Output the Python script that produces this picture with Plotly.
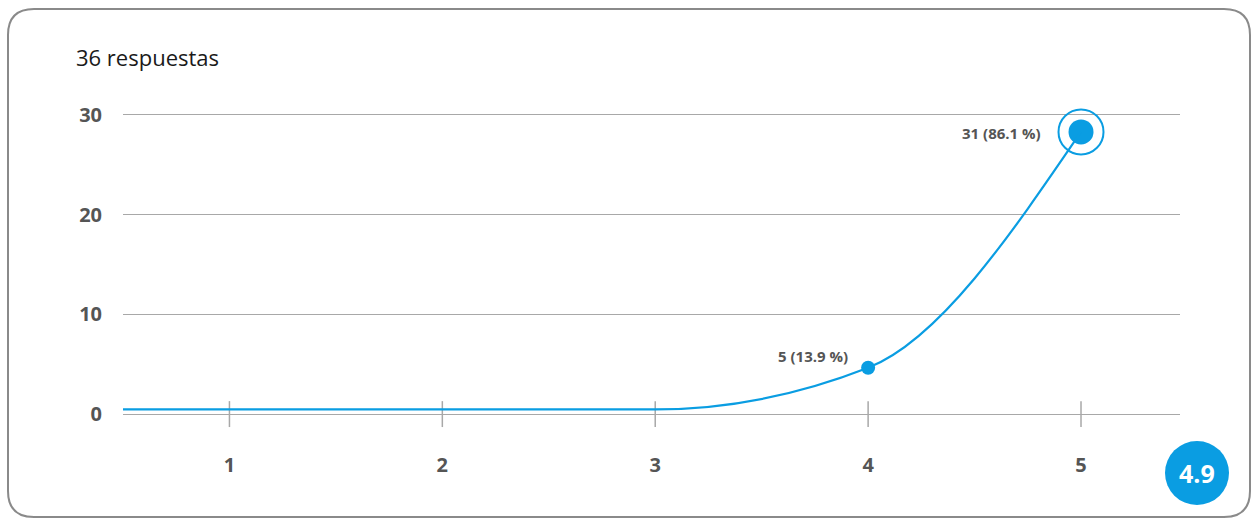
import plotly.graph_objects as go

# ---------------- data ----------------
ratings = [1, 2, 3, 4, 5]
counts = [0, 0, 0, 5, 31]
percents = [0.0, 0.0, 0.0, 13.9, 86.1]
curve_y = [0.47, 0.47, 0.47, 4.65, 28.3]   # heights as drawn in the reference
y_ticks = [0, 10, 20, 30]
x_tick_labels = ["1", "2", "3", "4", "5"]
total_label = "36 respuestas"
average_label = "4.9"

# ---------------- style ----------------
BLUE = "#0a9de2"
TICK_COL = "#555555"
GRID_COL = "#a8a8a8"
FONT = "Open Sans"
W, H = 1257, 519
L, R, T, B = 123, 77, 105, 75
X_RANGE = [0.5, 5.465]
Y_RANGE = [-3, 31]


def px_x(px):
    return (px - L) / (W - L - R)


def px_y(py):
    return (H - B - py) / (H - T - B)


def monotone_path(xs, ys):
    """SVG path (data coords) of a monotone-X cubic curve through the points."""
    n = len(xs)
    h = [xs[i + 1] - xs[i] for i in range(n - 1)]
    s = [(ys[i + 1] - ys[i]) / h[i] for i in range(n - 1)]
    t = [0.0] * n
    for i in range(1, n - 1):
        if s[i - 1] * s[i] <= 0:
            t[i] = 0.0
        else:
            p = (s[i - 1] * h[i] + s[i] * h[i - 1]) / (h[i - 1] + h[i])
            sg = 1 if s[i] > 0 else -1
            t[i] = 2 * sg * min(abs(s[i - 1]), abs(s[i]), 0.5 * abs(p))
    t[0] = (3 * s[0] - t[1]) / 2 if n > 2 else s[0]
    t[-1] = (3 * s[-1] - t[-2]) / 2 if n > 2 else s[-1]
    d = f"M {xs[0]},{ys[0]}"
    for i in range(n - 1):
        dx = h[i] / 3
        d += (f" C {xs[i] + dx},{ys[i] + dx * t[i]} "
              f"{xs[i + 1] - dx},{ys[i + 1] - dx * t[i + 1]} {xs[i + 1]},{ys[i + 1]}")
    return d


fig = go.Figure()

# baseline stub from the left edge to the first category, then the curve
line_x = [X_RANGE[0]] + ratings
line_y = [curve_y[0]] + curve_y
fig.add_shape(type="path", xref="x", yref="y", path=monotone_path(line_x, line_y),
              line=dict(color=BLUE, width=2.2), layer="above")

# markers for non-zero values
mx = [r for r, c in zip(ratings, counts) if c > 0]
my = [v for v, c in zip(curve_y, counts) if c > 0]
max_c = max(counts)
sizes = [25 if c == max_c else 14 for c in counts if c > 0]
fig.add_trace(go.Scatter(x=mx, y=my, mode="markers",
                         marker=dict(color=BLUE, size=sizes, opacity=1, line=dict(width=0)),
                         showlegend=False, hoverinfo="skip"))
# ring around max point
imax = counts.index(max_c)
fig.add_trace(go.Scatter(x=[ratings[imax]], y=[curve_y[imax]], mode="markers",
                         marker=dict(color=BLUE, size=45, symbol="circle-open", opacity=1,
                                     line=dict(color=BLUE, width=2)),
                         showlegend=False, hoverinfo="skip"))

# value labels
for r, c, p, v in zip(ratings, counts, percents, curve_y):
    if c <= 0:
        continue
    if c == max_c:
        xs, ys = -38, -1
    else:
        xs, ys = -18, 12
    fig.add_annotation(x=r, y=v, text=f"<b>{c} ({p:.1f} %)</b>", showarrow=False,
                       xanchor="right", yanchor="middle", xshift=xs, yshift=ys,
                       font=dict(family=FONT, size=15, color=TICK_COL))

# x tick marks crossing the baseline
for r in ratings:
    fig.add_shape(type="line", xref="x", yref="y", x0=r, x1=r, y0=-1.3, y1=1.3,
                  line=dict(color=GRID_COL, width=1.5), layer="below")

# card border (rounded rectangle)
bl, bt, br, bb, rad = 8, 9, 1250, 517, 26
path = (f"M {px_x(bl+rad)},{px_y(bt)} L {px_x(br-rad)},{px_y(bt)} "
        f"Q {px_x(br)},{px_y(bt)} {px_x(br)},{px_y(bt+rad)} "
        f"L {px_x(br)},{px_y(bb-rad)} Q {px_x(br)},{px_y(bb)} {px_x(br-rad)},{px_y(bb)} "
        f"L {px_x(bl+rad)},{px_y(bb)} Q {px_x(bl)},{px_y(bb)} {px_x(bl)},{px_y(bb-rad)} "
        f"L {px_x(bl)},{px_y(bt+rad)} Q {px_x(bl)},{px_y(bt)} {px_x(bl+rad)},{px_y(bt)} Z")
fig.add_shape(type="path", xref="paper", yref="paper", path=path,
              line=dict(color="#8a8a8a", width=2), layer="below")

# average badge
cx, cy, cr = 1197, 473, 32
fig.add_shape(type="circle", xref="paper", yref="paper",
              xsizemode="pixel", ysizemode="pixel",
              xanchor=px_x(cx), yanchor=px_y(cy), x0=-cr, x1=cr, y0=-cr, y1=cr,
              fillcolor=BLUE, line=dict(width=0))
fig.add_annotation(xref="paper", yref="paper", x=px_x(cx), y=px_y(cy),
                   text=f"<b>{average_label}</b>", showarrow=False,
                   font=dict(family=FONT, size=25, color="white"),
                   xanchor="center", yanchor="middle")

# title
fig.add_annotation(xref="paper", yref="paper", x=px_x(74), y=px_y(57),
                   text=total_label, showarrow=False, xanchor="left", yanchor="middle",
                   font=dict(family=FONT, size=22, color="#1a1a1a"))

fig.update_layout(
    width=W, height=H, margin=dict(l=L, r=R, t=T, b=B),
    paper_bgcolor="white", plot_bgcolor="white",
    font=dict(family=FONT),
    xaxis=dict(range=X_RANGE, tickvals=ratings, ticktext=[f"<b>{t}</b>" for t in x_tick_labels],
               showgrid=False, zeroline=False, showline=False, ticks="",
               tickfont=dict(family=FONT, size=20, color=TICK_COL), ticklabelstandoff=7),
    yaxis=dict(range=Y_RANGE, tickvals=y_ticks, ticktext=[f"<b>{t}</b>" for t in y_ticks],
               showgrid=True, gridcolor=GRID_COL, gridwidth=1.2, zeroline=False,
               showline=False, ticks="",
               tickfont=dict(family=FONT, size=20, color=TICK_COL), ticklabelstandoff=20),
)

fig.write_html("out.html")
